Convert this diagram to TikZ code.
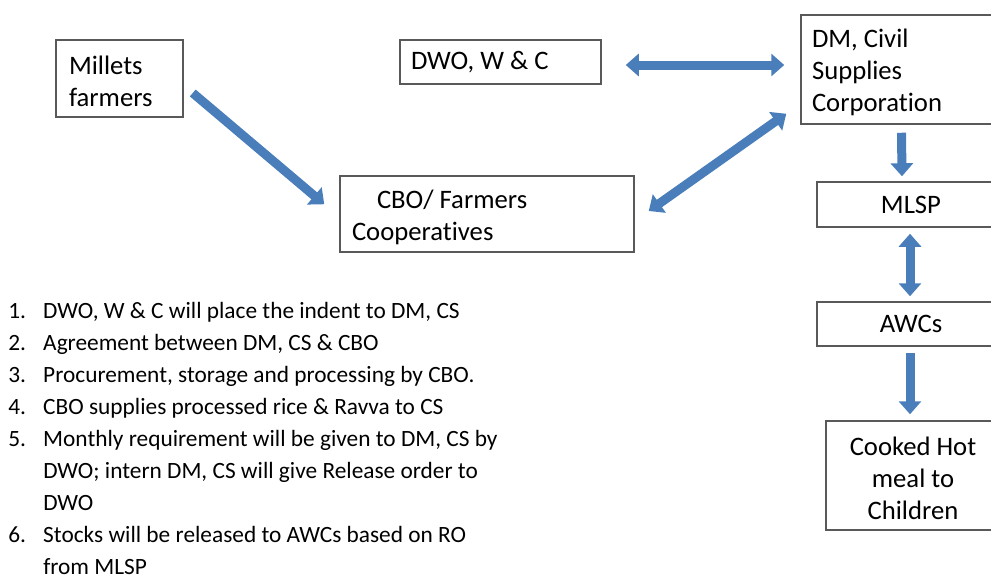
\documentclass[tikz,border=0pt]{standalone}
\usepackage{fontspec}
\setmainfont{Carlito}[Ligatures=NoCommon]
\usepackage{tikz}
\usetikzlibrary{arrows.meta}
\usepackage{xcolor}

\newdimen\px
\px=0.75pt

\definecolor{arrowblue}{HTML}{4A7EBB}
\definecolor{boxgray}{HTML}{595959}

\tikzset{
  box/.style={rectangle, draw=boxgray, line width=1.5\px, inner sep=0pt, align=flush left},
  lowtext/.style={text height=18.5pt},
  bighead/.tip={Triangle[width=16.5pt,length=9.75pt]},
  flow/.style={draw=arrowblue, line width=9\px}
}

\begin{document}
\begin{tikzpicture}[x=0.75pt, y=-0.75pt, font=\fontsize{20}{24}\selectfont]
          % Frame
          \useasboundingbox (0,0) rectangle (991,579);
          \clip (0,0) rectangle (991,579);

          % Boxes
          \node[box, lowtext, minimum width=127\px, minimum height=77\px, text width=101\px] (mil) at (119.5,78.5) {Millets\\farmers};
          \node[box, minimum width=201\px, minimum height=44\px, text width=179\px] (dwo) at (500.5,62) {DWO, W \& C};
          \node[box, lowtext, minimum width=294\px, minimum height=76\px, text width=270\px] (cbo) at (487,214) {\hspace*{25\px}CBO/ Farmers\\Cooperatives};
          \node[box, lowtext, minimum width=209\px, minimum height=109\px, text width=187\px] (dm) at (905.5,69.5) {DM, Civil\\Supplies\\Corporation};

          % Right column
          \node[box, minimum width=188\px, minimum height=45\px, align=center] (mlsp) at (911,204.5) {MLSP};
          \node[box, minimum width=188\px, minimum height=44\px, align=center] (awc) at (911,324) {AWCs};
          \node[box, lowtext, minimum width=174\px, minimum height=109\px, text width=160\px, align=flush center] (meal) at (913,475.5) {Cooked Hot\\meal to\\Children};

          % Arrows
          \draw[flow, -bighead] ([shift={(9,14.5)}]mil.east) -- ([shift={(-15,29)}]cbo.north west);
          \draw[flow, bighead-bighead] ([shift={(24,3)}]dwo.east) -- ([shift={(-16,-4.5)}]dm.west);
          \draw[flow, bighead-bighead] ([shift={(14,-3)}]cbo.east) -- ([shift={(-14,-11)}]dm.south west);
          \draw[flow, -bighead] ([shift={(-4,8)}]dm.south) -- ([shift={(-9,-5)}]mlsp.north);
          \draw[flow, bighead-bighead] ([shift={(-1,6)}]mlsp.south) -- ([shift={(-1,-5)}]awc.north);
          \draw[flow, -bighead] ([shift={(-1,6)}]awc.south) -- ([shift={(-3,-6)}]meal.north);

          % Steps
          \node[anchor=north west, inner sep=0pt, align=left, font=\fontsize{17.5}{24}\selectfont] (steps) at (8,302) {%
            \makebox[35\px][l]{1.}DWO, W \& C will place the indent to DM, CS\\
            \makebox[35\px][l]{2.}Agreement between DM, CS \& CBO\\
            \makebox[35\px][l]{3.}Procurement, storage and processing by CBO.\\
            \makebox[35\px][l]{4.}CBO supplies processed rice \& Ravva to CS\\
            \makebox[35\px][l]{5.}Monthly requirement will be given to DM, CS by\\
            \hspace*{35\px}DWO; intern DM, CS will give Release order to\\
            \hspace*{35\px}DWO\\
            \makebox[35\px][l]{6.}Stocks will be released to AWCs based on RO\\
            \hspace*{35\px}from MLSP};

        \end{tikzpicture}
\end{document}
